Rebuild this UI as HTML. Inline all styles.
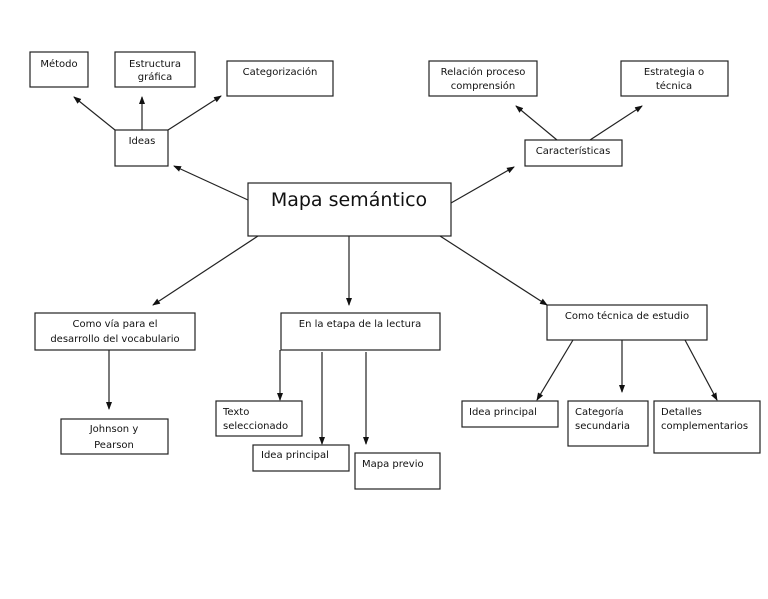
<!DOCTYPE html>
<html><head><meta charset="utf-8"><style>
body{margin:0;width:768px;height:594px;background:#fff;overflow:hidden}
svg text{font-family:"DejaVu Sans","Liberation Sans",sans-serif;font-size:10px;fill:#111}
</style></head><body>
<svg width="768" height="594" viewBox="0 0 768 594" xmlns="http://www.w3.org/2000/svg">
<defs><marker id="a" markerWidth="8" markerHeight="8" refX="7" refY="4" orient="auto" markerUnits="userSpaceOnUse"><path d="M0,1 L8,4 L0,7 z" fill="#111"/></marker></defs>
<g fill="#fff" stroke="#222" stroke-width="1.2">
<rect x="30" y="52" width="58" height="35"/>
<rect x="115" y="52" width="80" height="35"/>
<rect x="227" y="61" width="106" height="35"/>
<rect x="115" y="130" width="53" height="36"/>
<rect x="248" y="183" width="203" height="53"/>
<rect x="429" y="61" width="108" height="35"/>
<rect x="621" y="61" width="107" height="35"/>
<rect x="525" y="140" width="97" height="26"/>
<rect x="35" y="313" width="160" height="37"/>
<rect x="61" y="419" width="107" height="35"/>
<rect x="281" y="313" width="159" height="37"/>
<rect x="216" y="401" width="86" height="35"/>
<rect x="253" y="445" width="96" height="26"/>
<rect x="355" y="453" width="85" height="36"/>
<rect x="547" y="305" width="160" height="35"/>
<rect x="462" y="401" width="96" height="26"/>
<rect x="568" y="401" width="80" height="45"/>
<rect x="654" y="401" width="106" height="52"/>
</g>
<g stroke="#222" stroke-width="1.2" marker-end="url(#a)">
<line x1="115" y1="130" x2="74" y2="97"/>
<line x1="142" y1="130" x2="142" y2="97"/>
<line x1="168" y1="130" x2="221" y2="96"/>
<line x1="248" y1="200" x2="174" y2="166"/>
<line x1="557" y1="140" x2="516" y2="106"/>
<line x1="590" y1="140" x2="642" y2="106"/>
<line x1="451" y1="203" x2="514" y2="167"/>
<line x1="258" y1="236" x2="153" y2="305"/>
<line x1="349" y1="236" x2="349" y2="305"/>
<line x1="440" y1="236" x2="547" y2="305"/>
<line x1="109" y1="350" x2="109" y2="409"/>
<line x1="280" y1="350" x2="280" y2="400"/>
<line x1="322" y1="352" x2="322" y2="444"/>
<line x1="366" y1="352" x2="366" y2="444"/>
<line x1="573" y1="340" x2="537" y2="400"/>
<line x1="622" y1="340" x2="622" y2="392"/>
<line x1="685" y1="340" x2="717" y2="400"/>
</g>
<g text-anchor="middle">
<text x="59" y="67">Método</text>
<text x="155" y="67">Estructura</text>
<text x="155" y="80">gráfica</text>
<text x="280" y="75">Categorización</text>
<text x="142" y="144">Ideas</text>
<text x="349" y="206" style="font-size:19px">Mapa semántico</text>
<text x="483" y="75">Relación proceso</text>
<text x="483" y="89">comprensión</text>
<text x="674" y="75">Estrategia o</text>
<text x="674" y="89">técnica</text>
<text x="573" y="154">Características</text>
<text x="115" y="327">Como vía para el</text>
<text x="115" y="342">desarrollo del vocabulario</text>
<text x="114" y="432">Johnson y</text>
<text x="114" y="448">Pearson</text>
<text x="360" y="327">En la etapa de la lectura</text>
<text x="627" y="319">Como técnica de estudio</text>
</g>
<text x="223" y="415">Texto</text>
<text x="223" y="429">seleccionado</text>
<text x="261" y="458">Idea principal</text>
<text x="362" y="467">Mapa previo</text>
<text x="469" y="415">Idea principal</text>
<text x="575" y="415">Categoría</text>
<text x="575" y="429">secundaria</text>
<text x="661" y="415">Detalles</text>
<text x="661" y="429">complementarios</text>
</svg>
</body></html>
